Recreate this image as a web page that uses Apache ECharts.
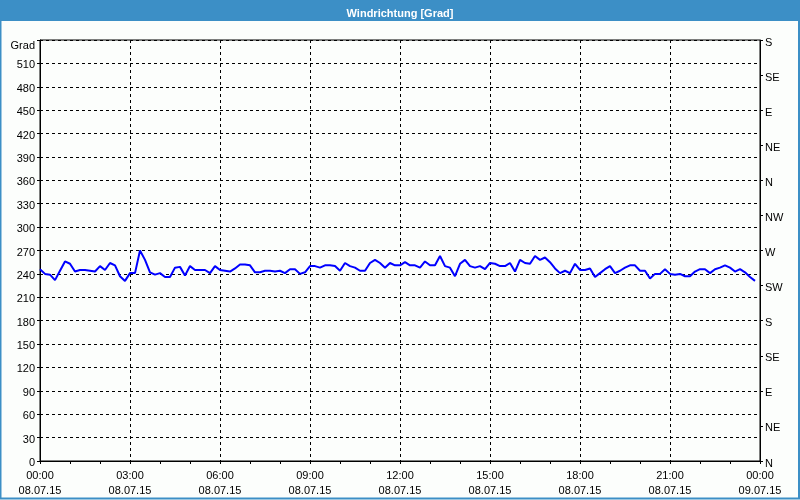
<!DOCTYPE html>
<html>
<head>
<meta charset="utf-8">
<script src="https://cdn.jsdelivr.net/npm/echarts@6/dist/echarts.min.js"></script>
<style>
  html, body { margin: 0; padding: 0; background: #fcfefc; }
  #chart { width: 800px; height: 500px; }
</style>
</head>
<body>
<div id="chart"></div>
<script>
// Windrichtung, 10-Minuten-Werte ab 08.07.15 00:00
const startDay = 8;
const stepMinutes = 10;
const direction = [
  246, 240, 239, 232, 244, 256, 253, 243, 245, 245, 244, 243, 250, 245, 254, 251,
  237, 231, 241, 241, 270, 258, 242, 239, 241, 236, 236, 248, 249, 238, 250, 245,
  245, 245, 241, 250, 245, 244, 243, 247, 252, 252, 251, 242, 242, 244, 244, 243,
  244, 241, 246, 246, 240, 242, 250, 250, 248, 251, 251, 250, 244, 254, 250, 248,
  244, 244, 254, 258, 254, 248, 254, 251, 251, 255, 251, 251, 248, 256, 251, 251,
  263, 250, 248, 237, 253, 258, 250, 248, 250, 246, 254, 253, 250, 250, 254, 243,
  258, 254, 253, 263, 258, 261, 255, 247, 241, 244, 241, 253, 245, 245, 247, 236,
  241, 246, 250, 241, 244, 248, 251, 251, 244, 244, 234, 240, 240, 246, 240, 239,
  240, 237, 237, 243, 246, 246, 241, 246, 248, 251, 248, 243, 246, 242, 236, 231
];
const compassLabels = ['N', 'NE', 'E', 'SE', 'S', 'SW', 'W', 'NW', 'N', 'NE', 'E', 'SE', 'S'];

const seriesData = direction.map((v, i) => [i * stepMinutes / 60, v]);

function pad(n) { return (n < 10 ? '0' : '') + n; }

const font = 'Liberation Sans';
let chart = echarts.init(document.getElementById('chart'));

chart.setOption({
  animation: false,
  backgroundColor: '#fcfefc',
  textStyle: { fontFamily: font },
  title: {
    text: 'Windrichtung [Grad]',
    left: 'center',
    top: 3,
    textStyle: { color: '#ffffff', fontSize: 11, fontWeight: 'bold', fontFamily: font }
  },
  graphic: [
    { type: 'rect', z: -10, shape: { x: 0, y: 0, width: 800, height: 21 }, style: { fill: '#3c8fc6' } },
    { type: 'rect', z: -10, shape: { x: 0.5, y: 0.5, width: 798.5, height: 498 }, style: { fill: null, stroke: '#3c8fc6', lineWidth: 2 } }
  ],
  grid: {
    left: 40, right: 40, top: 40, bottom: 39,
    show: true, borderColor: '#000', borderWidth: 1, backgroundColor: 'transparent'
  },
  xAxis: {
    type: 'value',
    min: 0, max: 24, interval: 3,
    axisLine: { lineStyle: { color: '#000', width: 1 } },
    axisTick: { show: true, length: 3, lineStyle: { color: '#000' } },
    minorTick: { show: true, splitNumber: 3, length: 3, lineStyle: { color: '#000' } },
    splitLine: { show: true, lineStyle: { color: '#000', type: [3, 3], width: 1 } },
    axisLabel: {
      color: '#000', fontSize: 11, lineHeight: 15, margin: 7,
      formatter: v => pad(v % 24) + ':00\n' + pad(startDay + Math.floor(v / 24)) + '.07.15'
    }
  },
  yAxis: [
    {
      type: 'value',
      min: 0, max: 540, interval: 30,
      axisLine: { show: true, lineStyle: { color: '#000' } },
      axisTick: { show: true, length: 3, lineStyle: { color: '#000' } },
      splitLine: { show: true, lineStyle: { color: '#000', type: [3, 3], width: 1 } },
      axisLabel: {
        color: '#000', fontSize: 11, margin: 5, padding: [4, 0, 0, 0],
        formatter: v => v === 540 ? '{g|Grad}' : String(v),
        rich: { g: { fontSize: 11, color: '#000', padding: [8, 0, 0, 0] } }
      }
    },
    {
      type: 'value',
      position: 'right',
      min: 0, max: 540, interval: 45,
      axisLine: { show: true, lineStyle: { color: '#000' } },
      axisTick: { show: true, length: 3, lineStyle: { color: '#000' } },
      splitLine: { show: false },
      axisLabel: {
        color: '#000', fontSize: 11, margin: 5,
        formatter: v => '{c|' + compassLabels[Math.round(v / 45)] + '}',
        rich: { c: { fontSize: 11, color: '#000', padding: [5, 0, 0, 0] } }
      }
    }
  ],
  series: [
    {
      name: 'Windrichtung',
      type: 'line',
      yAxisIndex: 0,
      showSymbol: false,
      symbol: 'none',
      lineStyle: { color: '#0000ff', width: 2 },
      data: seriesData
    }
  ]
});
</script>
</body>
</html>
